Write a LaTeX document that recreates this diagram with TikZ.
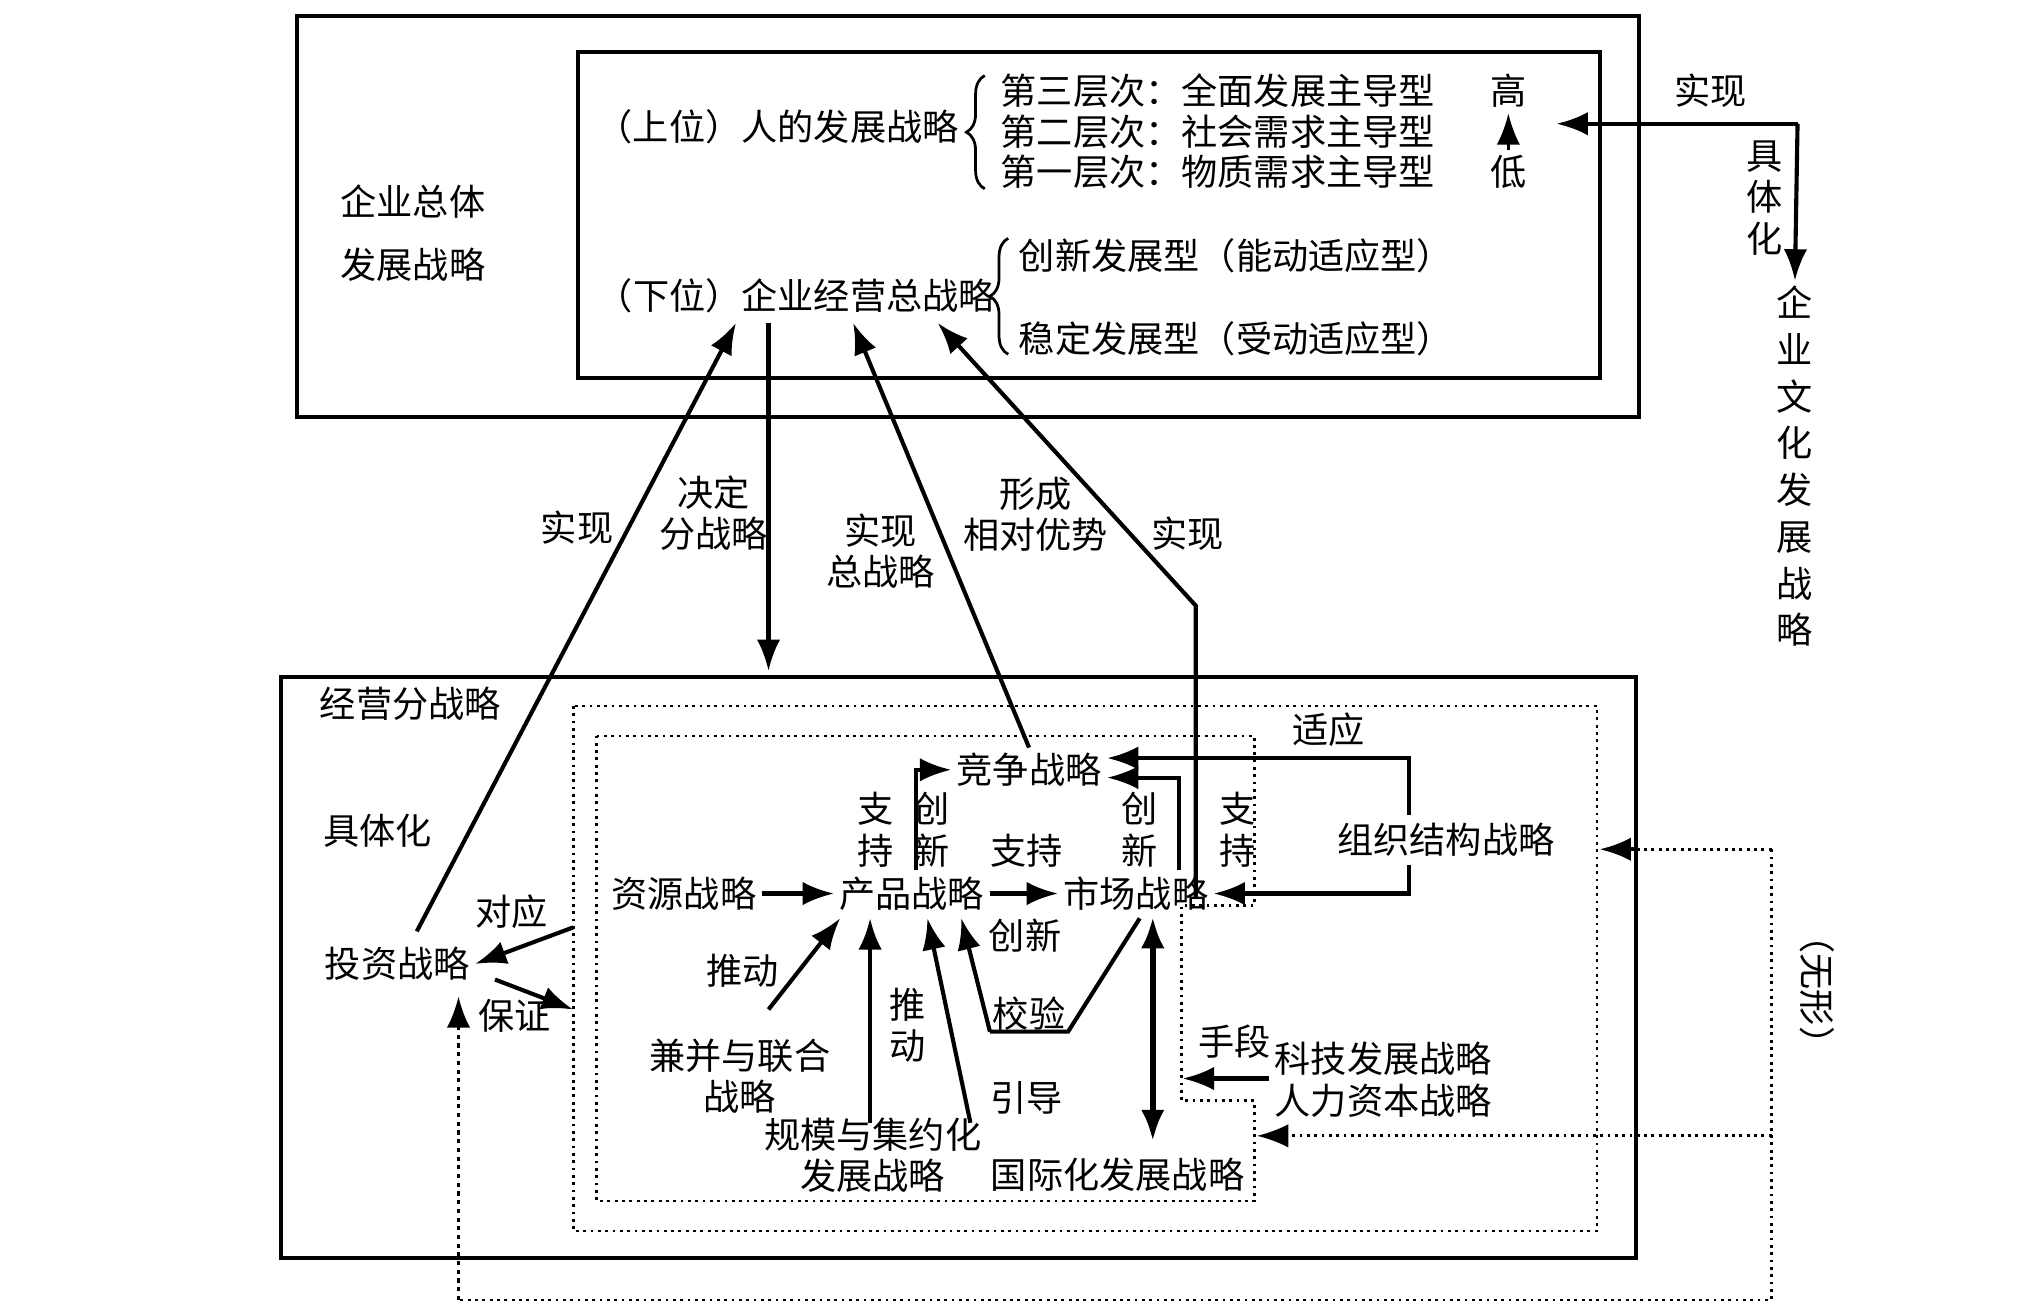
\documentclass[tikz,border=0pt]{standalone}
\usepackage{fontspec}
\setmainfont{Noto Sans CJK SC}
\usetikzlibrary{arrows.meta,decorations.pathreplacing}

\begin{document}
\begin{tikzpicture}[x=0.01cm,y=-0.01cm,
      txt/.style={inner sep=1pt, font=\fontsize{7.9}{9.5}\selectfont},
      vtxt/.style={txt, align=center, font=\fontsize{7.9}{9.0}\selectfont},
      arrow/.style={-{Latex[length=2.4mm,width=1.8mm]}, line width=0.9pt},
      dots/.style={densely dotted, line width=0.6pt},
      frame/.style={draw, line width=0.9pt}
    ]
      \useasboundingbox (0,0) rectangle (1560,1010);
      % top part
      \draw[frame] (228,12) rectangle (1258,320);
      \draw[frame] (444,40) rectangle (1228,290);
      \node[txt] (whole1) at (317,155) {企业总体};
      \node[txt] (whole2) at (317,203) {发展战略};
      \node[txt] (human) at (597,97) {（上位）人的发展战略};
      \draw[decorate,decoration={brace,amplitude=4pt},line width=0.6pt] (756,145) -- (756,58);
      \node[txt,anchor=west] (lv3) at (764,70) {第三层次：全面发展主导型};
      \node[txt,anchor=west] (lv2) at (764,101) {第二层次：社会需求主导型};
      \node[txt,anchor=west] (lv1) at (764,132) {第一层次：物质需求主导型};
      \node[txt] (high) at (1158,70) {高};
      \node[txt] (low) at (1158,132) {低};
      \draw[arrow, line width=0.7pt] (low) -- (high);
      \node[txt] (corp) at (611,227) {（下位）企业经营总战略};
      \draw[decorate,decoration={brace,amplitude=4pt},line width=0.6pt] (774,272) -- (774,183);
      \node[txt,anchor=west] (innov) at (778,196) {创新发展型（能动适应型）};
      \node[txt,anchor=west] (stable) at (778,260) {稳定发展型（受动适应型）};
      % culture
      \node[txt] (real0) at (1313,70) {实现};
      \node[vtxt] (concr0) at (1355,152) {具\\体\\化};
      \node[vtxt, font=\fontsize{7.9}{10.2}\selectfont] (culture) at (1378,358) {企\\业\\文\\化\\发\\展\\战\\略};
      \coordinate (cc) at (1380,95);
      \draw[arrow] (cc) -- (1195,95);
      \draw[arrow] (cc) -- (culture.north);
      % bottom part
      \draw[frame] (216,520) rectangle (1256,966);
      \draw[dots] (440,542) rectangle (1226,945);
      \draw[dots] (458,565) -- (963,565) -- (963,695) -- (907,695) -- (907,845)
        -- (963,845) -- (963,922) -- (458,922) -- cycle;
      \node[txt] (sub) at (315,540) {经营分战略};
      \node[txt] (concr1) at (290,638) {具体化};
      \node[txt] (invest) at (305,740) {投资战略};
      \node[txt] (resrc) at (525,686) {资源战略};
      \node[txt] (prod) at (700,686) {产品战略};
      \node[txt] (mkt) at (872,686) {市场战略};
      \node[txt] (comp) at (790,591) {竞争战略};
      \node[txt] (org) at (1110,645) {组织结构战略};
      \node[vtxt] (merge) at (568,826) {兼并与联合\\战略};
      \node[vtxt] (scale) at (670,887) {规模与集约化\\发展战略};
      \node[txt] (intl) at (858,902) {国际化发展战略};
      \node[vtxt] (tech) at (1062,829) {科技发展战略\\人力资本战略};
      % labels
      \node[txt] (l1) at (443,405) {实现};
      \node[vtxt] (l2) at (548,394) {决定\\分战略};
      \node[vtxt] (l3) at (676,423) {实现\\总战略};
      \node[vtxt] (l4) at (795,395) {形成\\相对优势};
      \node[txt] (l5) at (912,410) {实现};
      \node[txt] (l6) at (1020,560) {适应};
      \node[vtxt] (l7) at (672,637) {支\\持};
      \node[vtxt] (l8) at (715,637) {创\\新};
      \node[txt] (l9) at (788,653) {支持};
      \node[vtxt] (l10) at (875,637) {创\\新};
      \node[vtxt] (l11) at (950,637) {支\\持};
      \node[txt] (l12) at (787,718) {创新};
      \node[txt] (l13) at (570,745) {推动};
      \node[vtxt] (l14) at (697,787) {推\\动};
      \node[txt] (l15) at (790,778) {校验};
      \node[txt] (l16) at (788,843) {引导};
      \node[txt] (l17) at (948,800) {手段};
      \node[txt] (l18) at (393,700) {对应};
      \node[txt] (l19) at (395,780) {保证};
      \node[txt, rotate=-90] (l20) at (1395,760) {（无形）};
      % long connectors
      \draw[arrow] (320,715) -- (565,248);
      \draw[arrow] (590,248) -- (590,515);
      \draw[arrow] (comp.north) -- (655,248);
      \draw[arrow] (918,690) -- (918,465) -- (720,248);
      % inner connectors
      \draw[arrow] (resrc) -- (prod);
      \draw[arrow] (prod) -- (mkt);
      \draw[arrow] (703,668) |- (comp.west);
      \draw[arrow] (905,668) |- (850,597);
      \draw[arrow] (1082,626) |- (850,582);
      \draw[arrow] (1082,664) |- (mkt.east);
      \draw[arrow] (590,775) -- (645,705);
      \draw[arrow] (668,862) -- (668,705);
      \draw[arrow] (745,862) -- (712,705);
      \draw[line width=0.9pt] (875,705) -- (820,792) -- (760,792);
      \draw[arrow] (760,792) -- (738,705);
      \draw[{Latex[length=2.4mm,width=1.8mm]}-{Latex[length=2.4mm,width=1.8mm]}, line width=1.2pt] (885,704) -- (885,876);
      \draw[arrow] (tech.west |- 0,828) -- (908,828);
      \draw[arrow] (440,712) -- (invest.east);
      \draw[arrow] (380,752) -- (440,775);
      % intangible links
      \coordinate (dr) at (1360,652);
      \coordinate (db) at (1360,998);
      \draw[dots] (dr) -- (1256,652);
      \draw[arrow] (1256,652) -- (1228,652);
      \draw[dots] (dr) -- (db) -- (352,998);
      \draw[arrow, dots, line width=0.7pt] (352,998) -- (352,765);
      \draw[-{Latex[length=2.4mm,width=1.8mm]}, dots] (1360,872) -- (965,872);
    \end{tikzpicture}
\end{document}
